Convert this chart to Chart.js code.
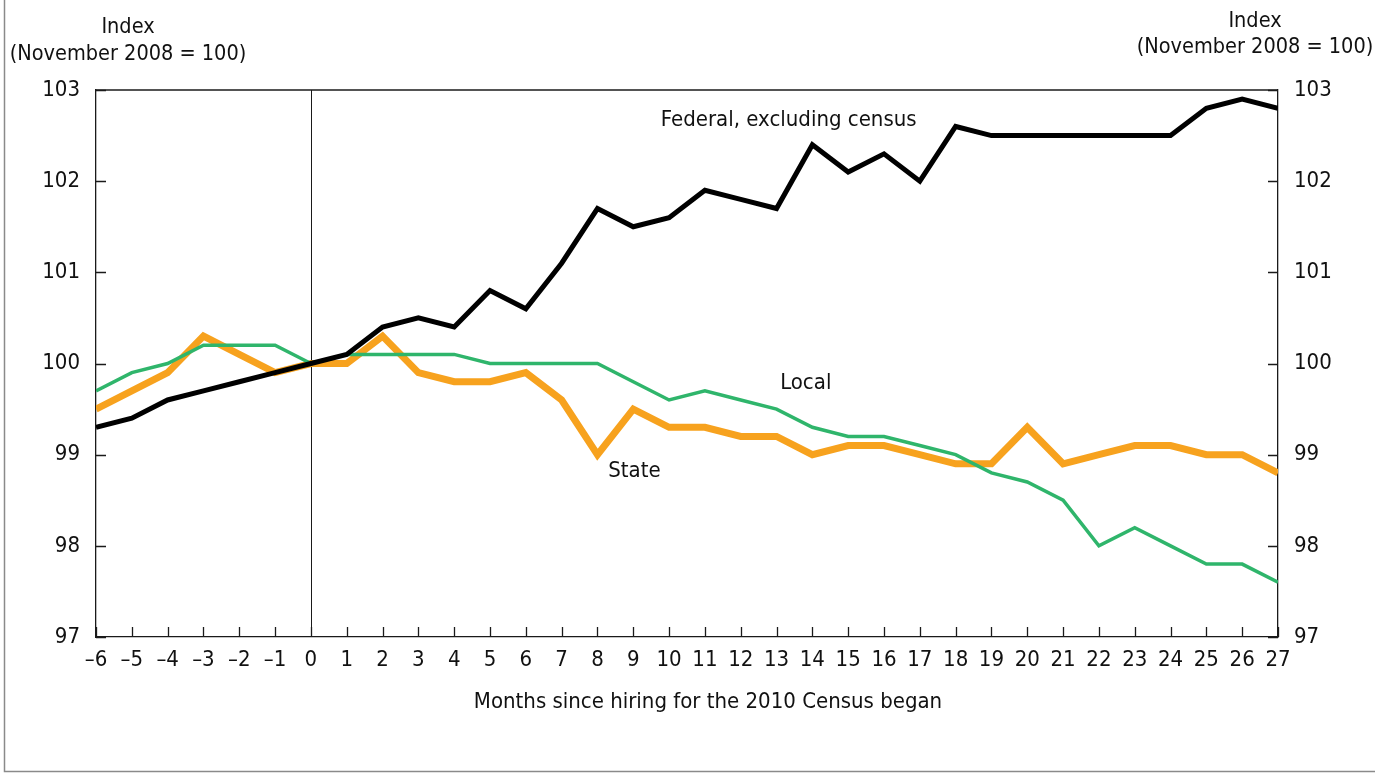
<!DOCTYPE html>
<html>
<head>
<meta charset="utf-8">
<script src="https://cdn.jsdelivr.net/npm/chart.js@4"></script>
<style>
  body { margin: 0; background: #fff; }
  canvas { display: block; }
</style>
</head>
<body>
<canvas id="chart" width="1375" height="773"></canvas>
<script>
// Months since hiring for the 2010 Census began
const months = [-6, -5, -4, -3, -2, -1, 0, 1, 2, 3, 4, 5, 6, 7, 8, 9, 10, 11, 12, 13, 14, 15, 16, 17, 18, 19, 20, 21, 22, 23, 24, 25, 26, 27];

// Index values (November 2008 = 100)
const federal = [99.3, 99.4, 99.6, 99.7, 99.8, 99.9, 100.0, 100.1, 100.4, 100.5, 100.4, 100.8, 100.6, 101.1, 101.7, 101.5, 101.6, 101.9, 101.8, 101.7, 102.4, 102.1, 102.3, 102.0, 102.6, 102.5, 102.5, 102.5, 102.5, 102.5, 102.5, 102.8, 102.9, 102.8];
const local = [99.7, 99.9, 100.0, 100.2, 100.2, 100.2, 100.0, 100.1, 100.1, 100.1, 100.1, 100.0, 100.0, 100.0, 100.0, 99.8, 99.6, 99.7, 99.6, 99.5, 99.3, 99.2, 99.2, 99.1, 99.0, 98.8, 98.7, 98.5, 98.0, 98.2, 98.0, 97.8, 97.8, 97.6];
const state = [99.5, 99.7, 99.9, 100.3, 100.1, 99.9, 100.0, 100.0, 100.3, 99.9, 99.8, 99.8, 99.9, 99.6, 99.0, 99.5, 99.3, 99.3, 99.2, 99.2, 99.0, 99.1, 99.1, 99.0, 98.9, 98.9, 99.3, 98.9, 99.0, 99.1, 99.1, 99.0, 99.0, 98.8];

const yTicks = [97, 98, 99, 100, 101, 102, 103];

const FONT = "'Liberation Sans Narrow', 'Arial Narrow', 'DejaVu Sans Condensed', sans-serif";

function toPoints(values) {
    return months.map((m, i) => ({ x: m, y: values[i] }));
}

// Ticks pointing inward, frame, zero line and text labels
const decorations = {
    id: 'decorations',
    beforeDatasetsDraw(chart) {
        const ctx = chart.ctx;
        const area = chart.chartArea;
        const x = chart.scales.x;
        const y = chart.scales.y;
        ctx.save();
        ctx.strokeStyle = '#1a1a1a';
        ctx.lineWidth = 1.3;

        // top frame line
        ctx.beginPath();
        ctx.moveTo(area.left, area.top);
        ctx.lineTo(area.right, area.top);
        ctx.stroke();

        // x ticks (upward)
        months.forEach(m => {
            const px = Math.round(x.getPixelForValue(m)) + 0.5;
            ctx.beginPath();
            ctx.moveTo(px, area.bottom);
            ctx.lineTo(px, area.bottom - 10);
            ctx.stroke();
        });

        // y ticks (inward on both sides)
        yTicks.forEach(v => {
            const py = Math.round(y.getPixelForValue(v)) + 0.5;
            ctx.beginPath();
            ctx.moveTo(area.left, py);
            ctx.lineTo(area.left + 10, py);
            ctx.moveTo(area.right, py);
            ctx.lineTo(area.right - 10, py);
            ctx.stroke();
        });

        // vertical line at month 0
        const zx = Math.round(x.getPixelForValue(0)) + 0.5;
        ctx.lineWidth = 1;
        ctx.beginPath();
        ctx.moveTo(zx, area.top);
        ctx.lineTo(zx, area.bottom);
        ctx.stroke();
        ctx.restore();
    },
    afterDraw(chart) {
        const ctx = chart.ctx;
        const x = chart.scales.x;
        const y = chart.scales.y;
        ctx.save();
        ctx.fillStyle = '#111';
        ctx.font = '21.5px ' + FONT;
        ctx.textBaseline = 'middle';
        ctx.textAlign = 'center';

        ctx.fillText('Index', 128, 27);
        ctx.fillText('(November 2008 = 100)', 128, 54);
        ctx.fillText('Index', 1255, 21);
        ctx.fillText('(November 2008 = 100)', 1255, 47);

        // series labels
        ctx.font = '22px ' + FONT;
        ctx.textAlign = 'left';
        ctx.fillText('Federal, excluding census', x.getPixelForValue(9.77), y.getPixelForValue(102.67));
        ctx.fillText('Local', x.getPixelForValue(13.1), y.getPixelForValue(99.78));
        ctx.fillText('State', x.getPixelForValue(8.3), y.getPixelForValue(98.82));

        // axis title
        ctx.textAlign = 'center';
        ctx.fillText('Months since hiring for the 2010 Census began', 708, 702);

        // outer border
        ctx.strokeStyle = '#8a8a8a';
        ctx.lineWidth = 1.5;
        ctx.beginPath();
        ctx.moveTo(4.5, 0);
        ctx.lineTo(4.5, 771.5);
        ctx.lineTo(1375, 771.5);
        ctx.stroke();
        ctx.restore();
    }
};

const ctx = document.getElementById('chart').getContext('2d');

new Chart(ctx, {
    type: 'line',
    data: {
        datasets: [
            {
                label: 'Federal, excluding census',
                data: toPoints(federal),
                borderColor: '#000000',
                borderWidth: 5
            },
            {
                label: 'Local',
                data: toPoints(local),
                borderColor: '#2fb56b',
                borderWidth: 3.5
            },
            {
                label: 'State',
                data: toPoints(state),
                borderColor: '#f7a21e',
                borderWidth: 7
            }
        ]
    },
    options: {
        responsive: false,
        animation: false,
        events: [],
        elements: {
            point: { radius: 0 },
            line: { tension: 0, borderJoinStyle: 'miter' }
        },
        layout: {
            padding: { top: 90, left: 0, right: 0, bottom: 0 }
        },
        plugins: {
            legend: { display: false },
            tooltip: { enabled: false }
        },
        scales: {
            x: {
                type: 'linear',
                min: -6,
                max: 27,
                grid: { display: false, drawTicks: false },
                border: { display: true, color: '#1a1a1a', width: 1.3 },
                ticks: {
                    stepSize: 1,
                    autoSkip: false,
                    maxRotation: 0,
                    padding: 10,
                    color: '#111',
                    font: { family: FONT, size: 22 },
                    callback: v => v < 0 ? '\u2013' + Math.abs(v) : String(v)
                },
                afterFit: scale => { scale.height = 136; }
            },
            y: {
                position: 'left',
                min: 97,
                max: 103,
                grid: { display: false, drawTicks: false },
                border: { display: true, color: '#1a1a1a', width: 1.3 },
                ticks: {
                    stepSize: 1,
                    padding: 16,
                    color: '#111',
                    font: { family: FONT, size: 22 }
                },
                afterFit: scale => { scale.width = 96; }
            },
            y2: {
                position: 'right',
                min: 97,
                max: 103,
                grid: { display: false, drawTicks: false },
                border: { display: true, color: '#1a1a1a', width: 1.3 },
                ticks: {
                    stepSize: 1,
                    padding: 16,
                    color: '#111',
                    font: { family: FONT, size: 22 }
                },
                afterFit: scale => { scale.width = 97; }
            }
        }
    },
    plugins: [decorations]
});
</script>
</body>
</html>
